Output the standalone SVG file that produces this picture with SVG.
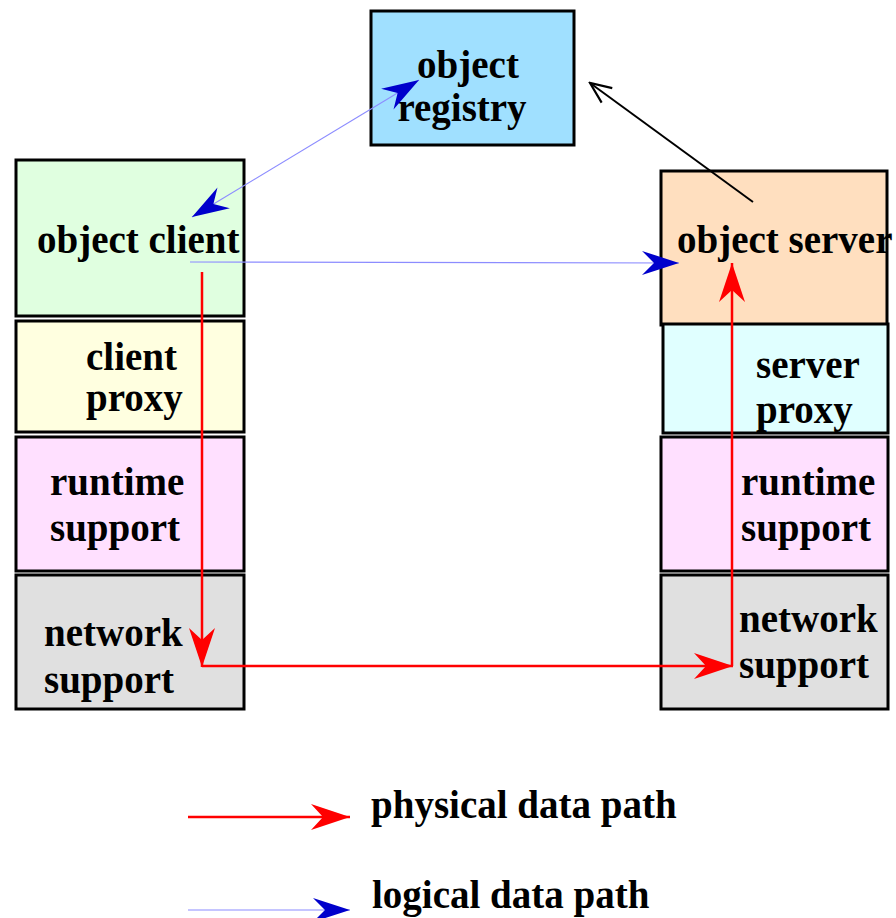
<svg xmlns="http://www.w3.org/2000/svg" width="896" height="918" viewBox="0 0 896 918">
<style>
.box{stroke:#000;stroke-width:3}
.t{font-family:"Liberation Serif","Times New Roman",serif;font-weight:bold;font-size:39px;fill:#000}
.red{stroke:#ff0000;stroke-width:2.5;fill:none}
.blue{stroke:#8c8cff;stroke-width:1.2;fill:none}
</style>
<defs>
<marker id="ar" viewBox="-40 -15 42 30" refX="0" refY="0" markerWidth="42" markerHeight="30" markerUnits="userSpaceOnUse" orient="auto">
<path d="M0,0 L-39,-13 L-27,0 L-39,13 Z" fill="#ff0000"/>
</marker>
<marker id="ab" viewBox="-40 -15 42 30" refX="0" refY="0" markerWidth="42" markerHeight="30" markerUnits="userSpaceOnUse" orient="auto-start-reverse">
<path d="M0,0 L-37,-12 L-25,0 L-37,12 Z" fill="#0000cc"/>
</marker>
<marker id="ak" viewBox="-25 -12 27 24" refX="0" refY="0" markerWidth="27" markerHeight="24" markerUnits="userSpaceOnUse" orient="auto">
<path d="M-21,-9 L0,0 L-21,9" fill="none" stroke="#000" stroke-width="2.2"/>
</marker>
</defs>
<rect width="896" height="918" fill="#fff"/>
<g id="registry"><rect class="box" x="371" y="11" width="203" height="134" fill="#a0e0ff"/><text class="t" x="468" y="78" text-anchor="middle">object</text><text class="t" x="462" y="121" text-anchor="middle">registry</text></g>
<g id="client"><rect class="box" x="16" y="160" width="228" height="156" fill="#e0ffe0"/><text class="t" x="37" y="253">object client</text></g>
<g id="clientproxy"><rect class="box" x="16" y="321" width="228" height="111" fill="#ffffe0"/><text class="t" x="86" y="370">client</text><text class="t" x="86" y="411">proxy</text></g>
<g id="runtime-left"><rect class="box" x="16" y="437" width="228" height="134" fill="#ffe0ff"/><text class="t" x="50" y="495">runtime</text><text class="t" x="50" y="541">support</text></g>
<g id="network-left"><rect class="box" x="16" y="575" width="228" height="134" fill="#e0e0e0"/><text class="t" x="44" y="646">network</text><text class="t" x="44" y="693">support</text></g>
<g id="server"><rect class="box" x="661" y="171" width="226" height="154" fill="#ffdfbf"/><text class="t" x="677" y="253">object server</text></g>
<g id="serverproxy"><rect class="box" x="663" y="324" width="225" height="109" fill="#e0ffff"/><text class="t" x="756" y="378">server</text><text class="t" x="756" y="423">proxy</text></g>
<g id="runtime-right"><rect class="box" x="661" y="437" width="227" height="134" fill="#ffe0ff"/><text class="t" x="741" y="495">runtime</text><text class="t" x="741" y="541">support</text></g>
<g id="network-right"><rect class="box" x="661" y="575" width="227" height="134" fill="#e0e0e0"/><text class="t" x="739" y="632">network</text><text class="t" x="739" y="678">support</text></g>
<g id="connectors">
<line class="blue" x1="192" y1="217" x2="419" y2="80" marker-start="url(#ab)" marker-end="url(#ab)"/>
<line class="blue" x1="190" y1="262" x2="679" y2="263" marker-end="url(#ab)"/>
<line x1="753" y1="202" x2="590" y2="83" stroke="#000" stroke-width="2" marker-end="url(#ak)"/>
<line class="red" x1="202" y1="272" x2="202" y2="667" marker-end="url(#ar)"/>
<line class="red" x1="202" y1="666" x2="733" y2="666" marker-end="url(#ar)"/>
<line class="red" x1="732" y1="666" x2="732" y2="263" marker-end="url(#ar)"/>
</g>
<g id="legend">
<line class="red" x1="188" y1="817" x2="350" y2="817" marker-end="url(#ar)"/>
<text class="t" x="371" y="818">physical data path</text>
<line class="blue" x1="188" y1="910" x2="350" y2="910" marker-end="url(#ab)"/>
<text class="t" x="372" y="908">logical data path</text>
</g>
</svg>
